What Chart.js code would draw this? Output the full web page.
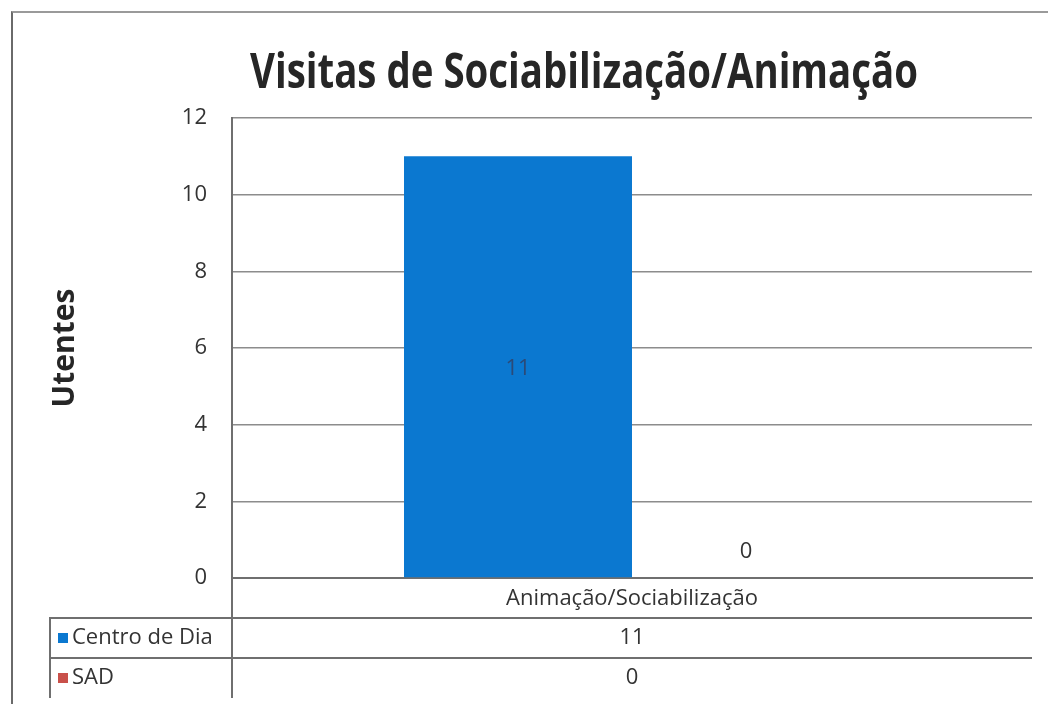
<!DOCTYPE html>
<html lang="pt">
  <head>
    <meta charset="UTF-8" />
    <title>Visitas de Sociabilização/Animação</title>
    <script src="https://cdn.jsdelivr.net/npm/chart.js@4/dist/chart.umd.min.js"></script>
    <style>
      body {
        margin: 0;
        background: #fff;
        font-family: "Open Sans", sans-serif;
      }
      .page {
        position: relative;
        width: 1048px;
        height: 704px;
        overflow: hidden;
      }
      .frame {
        position: absolute;
        left: 11px;
        top: 11px;
        width: 1100px;
        height: 800px;
        border-left: 2px solid #6a6a6a;
        border-top: 2px solid #9a9a9a;
      }
      .title {
        position: absolute;
        top: 37px;
        left: 584px;
        font-weight: 700;
        font-size: 48px;
        line-height: 1.362;
        color: #262626;
        white-space: nowrap;
        transform-origin: center;
      }
      canvas {
        position: absolute;
        left: 0;
        top: 0;
      }
    </style>
  </head>
  <body>
    <div class="page">
      <div class="frame"></div>
      <canvas id="chart" width="1048" height="704"></canvas>
      <div class="title" id="title">Visitas de Sociabilização/Animação</div>
    </div>

    <script>
      // dados
      const categories = ["Animação/Sociabilização"];
      const seriesNames = ["Centro de Dia", "SAD"];
      const centroDia = [11];
      const sad = [0];
      const yTicks = [0, 2, 4, 6, 8, 10, 12];

      // título comprimido à largura do original
      const titleEl = document.getElementById("title");
      const k = 668 / titleEl.offsetWidth;
      titleEl.style.transform = "translateX(-50%) scaleX(" + k + ")";

      const lineColor = "#6f6f6f";
      const textColor = "#333333";
      const baseFont = '22px "Open Sans"';

      // tabela de dados por baixo do gráfico + rótulos das barras
      const tablePlugin = {
        id: "dataTable",
        afterDatasetsDraw(chart) {
          const ctx = chart.ctx;
          ctx.save();
          ctx.font = baseFont;
          ctx.textAlign = "center";
          ctx.textBaseline = "middle";
          chart.data.datasets.forEach((ds, j) => {
            chart.getDatasetMeta(j).data.forEach((el, i) => {
              const v = ds.data[i];
              if (v > 0) {
                ctx.fillStyle = "#2b4a78";
                ctx.fillText(String(v), el.x, (el.y + el.base) / 2 + 2);
              } else {
                ctx.fillStyle = textColor;
                ctx.fillText(String(v), el.x, el.base - 26);
              }
            });
          });
          ctx.restore();
        },
        afterDraw(chart) {
          const { ctx, chartArea: a, scales } = chart;
          const x = scales.x;
          const rowH = 40;
          const legendLeft = 50;
          const rows = [centroDia, sad];
          const bottom = a.bottom + rowH * (rows.length + 1);

          ctx.save();
          ctx.strokeStyle = lineColor;
          ctx.lineWidth = 2;
          ctx.beginPath();
          for (let i = 1; i <= rows.length; i++) {
            const y = a.bottom + rowH * i;
            ctx.moveTo(legendLeft, y);
            ctx.lineTo(a.right, y);
          }
          ctx.moveTo(a.left, a.bottom);
          ctx.lineTo(a.left, bottom);
          ctx.moveTo(legendLeft, a.bottom + rowH - 1);
          ctx.lineTo(legendLeft, bottom);
          ctx.stroke();

          ctx.font = baseFont;
          ctx.fillStyle = textColor;
          ctx.textAlign = "center";
          ctx.textBaseline = "middle";
          categories.forEach((c, i) => {
            const cx = x.getPixelForValue(i);
            ctx.fillText(c, cx, a.bottom + rowH / 2 + 1);
            rows.forEach((r, j) => {
              ctx.fillText(String(r[i]), cx, a.bottom + rowH * (j + 1.5));
            });
          });

          chart.data.datasets.forEach((ds, j) => {
            const yc = a.bottom + rowH * (j + 1.5);
            ctx.fillStyle = ds.backgroundColor;
            ctx.fillRect(legendLeft + 8, yc - 5, 10, 10);
            ctx.fillStyle = textColor;
            ctx.textAlign = "left";
            ctx.fillText(ds.label, legendLeft + 22, yc);
          });
          ctx.restore();
        },
      };

      new Chart(document.getElementById("chart"), {
        type: "bar",
        data: {
          labels: categories,
          datasets: [
            { label: seriesNames[0], data: centroDia, backgroundColor: "#0b78d0" },
            { label: seriesNames[1], data: sad, backgroundColor: "#c9504a" },
          ],
        },
        options: {
          responsive: false,
          animation: false,
          layout: { padding: { left: 40, top: 118, right: 16, bottom: 0 } },
          datasets: { bar: { categoryPercentage: 0.57, barPercentage: 1 } },
          plugins: {
            legend: { display: false },
            tooltip: { enabled: false },
            title: { display: false },
          },
          scales: {
            x: {
              ticks: { display: false },
              grid: { display: false },
              border: { color: lineColor, width: 2 },
              afterFit(s) {
                s.height = 126;
              },
            },
            y: {
              min: 0,
              max: 12,
              afterBuildTicks(s) {
                s.ticks = yTicks.map((v) => ({ value: v }));
              },
              ticks: {
                padding: 25,
                color: textColor,
                font: { family: "Open Sans", size: 22 },
              },
              grid: { color: "#8c8c8c", lineWidth: 1.5, drawTicks: false },
              border: { color: lineColor, width: 2 },
              title: {
                display: true,
                text: "Utentes",
                color: "#262626",
                font: { family: "Open Sans", size: 30, weight: "bold" },
                padding: { top: 7, bottom: 0 },
              },
              afterFit(s) {
                s.width = 192;
              },
            },
          },
        },
        plugins: [tablePlugin],
      });
    </script>
  </body>
</html>
